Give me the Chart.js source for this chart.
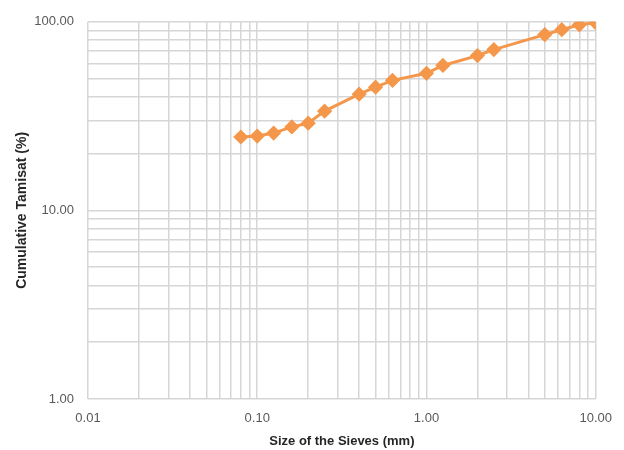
<!DOCTYPE html>
<html>
<head>
<meta charset="utf-8">
<script src="https://cdn.jsdelivr.net/npm/chart.js@4/dist/chart.umd.min.js"></script>
<style>
  html, body { margin: 0; padding: 0; background: #fff; }
  #wrap { width: 624px; height: 450px; }
</style>
</head>
<body>
<div id="wrap"><canvas id="chart" width="624" height="450"></canvas></div>
<script>
// sieve sizes (mm) and cumulative passing (%)
const sieveSizes = [0.08, 0.1, 0.125, 0.16, 0.2, 0.25, 0.4, 0.5, 0.63, 1, 1.25, 2, 2.5, 5, 6.3, 8, 10];
const passing = [24.5, 24.8, 25.7, 27.7, 29.0, 33.6, 41.3, 45.0, 48.9, 53.3, 58.7, 66.2, 71.2, 85.5, 90.8, 96.4, 98.8];

const xTickLabels = ["0.01", "0.10", "1.00", "10.00"];
const yTickLabels = ["1.00", "10.00", "100.00"];

// log grid: 1..9 in every decade, plus the closing decade
function logGrid(labels) {
  const decades = labels.map(Number);
  const out = [];
  decades.forEach((d, i) => {
    if (i === decades.length - 1) { out.push(d); return; }
    for (let m = 1; m < 10; m++) out.push(+(m * d).toPrecision(3));
  });
  return out;
}

const labelFor = (labels) => (v) => {
  const hit = labels.find((l) => Math.abs(Number(l) - v) < 1e-9);
  return hit || "";
};

const gridColor = "#d6d6d6";
const tickFont = { family: "Liberation Sans", size: 13 };

new Chart(document.getElementById("chart"), {
  type: "line",
  data: {
    datasets: [{
      data: sieveSizes.map((x, i) => ({ x, y: passing[i] })),
      borderColor: "#f4974a",
      backgroundColor: "#f4974a",
      borderWidth: 3,
      pointStyle: "rectRot",
      pointRadius: 5.5,
      pointHoverRadius: 5.5,
      tension: 0
    }]
  },
  options: {
    responsive: false,
    animation: false,
    layout: { padding: { top: 18, right: 28, left: 0, bottom: 0 } },
    plugins: { legend: { display: false }, tooltip: { enabled: false } },
    scales: {
      x: {
        type: "logarithmic",
        min: 0.01,
        max: 10,
        afterBuildTicks: (s) => { s.ticks = logGrid(xTickLabels).map((value) => ({ value })); },
        afterFit: (s) => { s.height = 51; },
        grid: { color: gridColor, lineWidth: 1.5, drawTicks: false },
        border: { display: false },
        ticks: {
          autoSkip: false, maxRotation: 0, padding: 12,
          color: "#595959", font: tickFont,
          callback: labelFor(xTickLabels)
        },
        title: {
          display: true, text: "Size of the Sieves (mm)",
          color: "#262626", font: { family: "Liberation Sans", size: 13, weight: "bold" },
          padding: { top: 0, bottom: 1 }
        }
      },
      y: {
        type: "logarithmic",
        min: 1,
        max: 100,
        afterBuildTicks: (s) => { s.ticks = logGrid(yTickLabels).map((value) => ({ value })); },
        afterFit: (s) => { s.width = 88; },
        grid: { color: gridColor, lineWidth: 1.5, drawTicks: false },
        border: { display: false },
        ticks: {
          autoSkip: false, padding: 14,
          color: "#595959", font: tickFont,
          callback: labelFor(yTickLabels)
        },
        title: {
          display: true, text: "Cumulative Tamisat (%)",
          color: "#262626", font: { family: "Liberation Sans", size: 14, weight: "bold" },
          padding: { top: 14, bottom: 0 }
        }
      }
    }
  }
});
</script>
</body>
</html>
